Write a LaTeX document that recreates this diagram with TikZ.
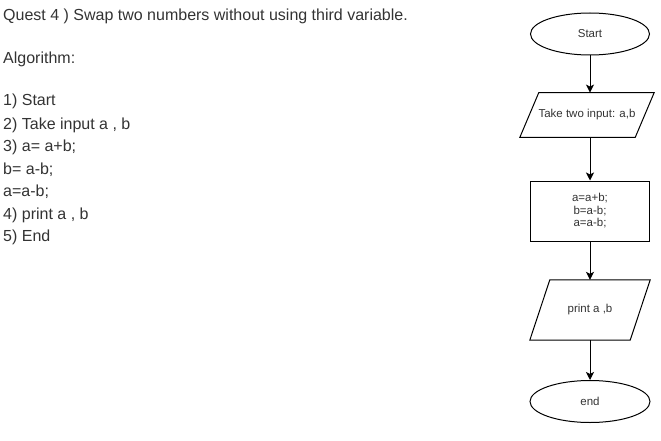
\documentclass[tikz,border=0pt]{standalone}
\usepackage{fontspec}
\setmainfont{Liberation Sans}
\usetikzlibrary{shapes.geometric,arrows.meta}
\definecolor{txt}{HTML}{333333}
\tikzset{
  every node/.style={text=txt},
  lbl/.style={anchor=base west, inner sep=0pt, font=\fontsize{16}{19}\selectfont},
  term/.style={ellipse, draw=black, line width=1pt, minimum width=119pt, minimum height=42pt, inner sep=0pt, font=\fontsize{11.5}{12}\selectfont},
  iobox/.style={rectangle, inner sep=0pt, font=\fontsize{11.5}{12}\selectfont},
  procbox/.style={rectangle, draw=black, line width=1pt, minimum width=119pt, minimum height=60pt, inner sep=0pt, align=center, font=\fontsize{11.5}{12.5}\selectfont},
  conn/.style={draw=black, line width=1pt, -{Stealth[length=8pt,width=8pt,inset=2pt]}},
  para/.style={draw=black, line width=1pt}
}
\begin{document}
\begin{tikzpicture}[x=1pt,y=-1pt]
\useasboundingbox (0,0) rectangle (661,441);
\node[lbl] (q) at (3,21) {Quest 4 ) Swap two numbers without using third variable.};
\node[lbl] (alg) at (3,64) {Algorithm:};
\node[lbl] (l1) at (3,106) {1) Start};
\node[lbl] (l2) at (3,129) {2) Take input a , b};
\node[lbl] (l3) at (3,151.5) {3) a= a+b;};
\node[lbl] (l4) at (3,174) {b= a-b;};
\node[lbl] (l5) at (3,196.5) {a=a-b;};
\node[lbl] (l6) at (3,219) {4) print a , b};
\node[lbl] (l7) at (3,241.5) {5) End};

\node[term] (start) at (590,34) {Start};
\node[iobox, minimum width=134pt, minimum height=44.5pt] (in) at (587,115) {Take two input: a,b};
\draw[para] ([xshift=19pt]in.north west) -- (in.north east) -- ([xshift=-19pt]in.south east) -- (in.south west) -- cycle;
\node[procbox] (proc) at (590,211) {a=a+b;\\b=a-b;\\a=a-b;};
\node[iobox, minimum width=120pt, minimum height=60pt] (out) at (590,310) {print a ,b};
\draw[para] ([xshift=20pt]out.north west) -- (out.north east) -- ([xshift=-20pt]out.south east) -- (out.south west) -- cycle;
\node[term, minimum width=120pt] (end) at (590,401.5) {end};

\draw[conn] (start.south) -- (start.south |- in.north);
\draw[conn] (start.south |- in.south) -- (proc.north);
\draw[conn] (proc.south) -- (out.north);
\draw[conn] (out.south) -- (end.north);
\end{tikzpicture}
\end{document}
